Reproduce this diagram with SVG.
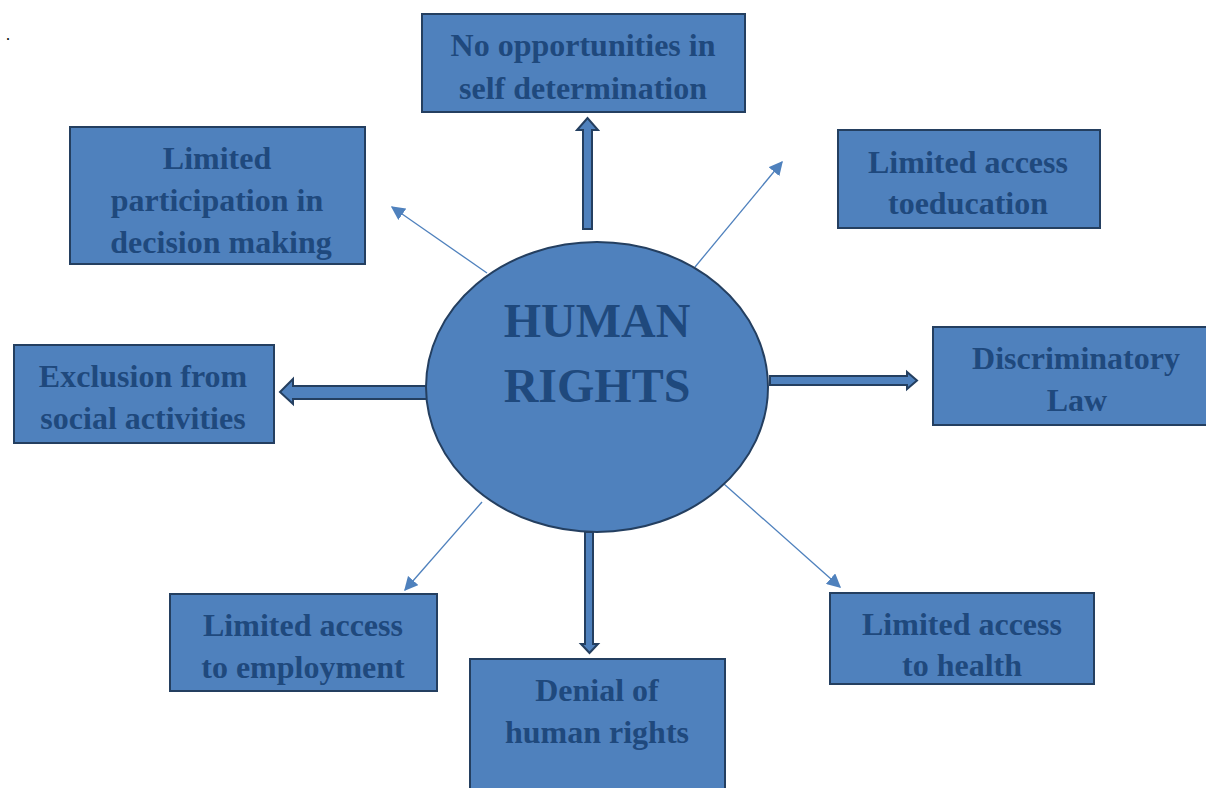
<svg xmlns="http://www.w3.org/2000/svg" width="1206" height="788" viewBox="0 0 1206 788">
<style>
.box{fill:#4F81BD;stroke:#243F60;stroke-width:2}
.t{font-family:"Liberation Serif",serif;font-weight:bold;font-size:32px;fill:#1F497D;text-anchor:middle}
.big{font-family:"Liberation Serif",serif;font-weight:bold;font-size:48px;fill:#1F497D;text-anchor:middle}
.blk{fill:#4F81BD;stroke:#243F60;stroke-width:2;stroke-linejoin:miter}
.thin{stroke:#4F81BD;stroke-width:1.3;fill:none;marker-end:url(#ah)}
</style>
<defs>
<marker id="ah" viewBox="0 0 10 10" refX="9" refY="5" markerWidth="14" markerHeight="14" markerUnits="userSpaceOnUse" orient="auto">
<path d="M0,0 L10,5 L0,10 z" fill="#4F81BD"/>
</marker>
</defs>
<rect width="1206" height="788" fill="#fff"/>
<text x="6" y="40" font-family="Liberation Serif,serif" font-size="16" fill="#000">.</text>
<g id="connectors">
<path class="blk" d="M583,229 L583,130 L577,130 L587.5,118 L598,130 L592,130 L592,229 Z"/>
<path class="blk" d="M770,376 L907,376 L907,372 L917,380.5 L907,389 L907,385 L770,385 Z"/>
<path class="blk" d="M427,386 L293,386 L293,379 L280,392 L293,404 L293,399 L427,399 Z"/>
<path class="blk" d="M585,532 L585,644 L581,644 L589.5,653 L598,644 L593,644 L593,532 Z"/>
<line class="thin" x1="487" y1="273" x2="392" y2="207"/>
<line class="thin" x1="695" y1="267" x2="782" y2="162"/>
<line class="thin" x1="482" y1="502" x2="405" y2="590"/>
<line class="thin" x1="724" y1="484" x2="840" y2="587"/>
</g>
<g id="center">
<ellipse cx="597" cy="387" rx="171" ry="145" fill="#4F81BD" stroke="#243F60" stroke-width="2"/>
<text class="big" x="597" y="337">HUMAN</text>
<text class="big" x="597" y="402">RIGHTS</text>
</g>
<g id="n-top">
<rect class="box" x="422" y="14" width="323" height="98"/>
<text class="t" x="583" y="56">No opportunities in</text>
<text class="t" x="583" y="99">self determination</text>
</g>
<g id="n-topleft">
<rect class="box" x="70" y="127" width="295" height="137"/>
<text class="t" x="217" y="169">Limited</text>
<text class="t" x="217" y="211">participation in</text>
<text class="t" x="221" y="253">decision  making</text>
</g>
<g id="n-topright">
<rect class="box" x="838" y="130" width="262" height="98"/>
<text class="t" x="968" y="173">Limited access</text>
<text class="t" x="968" y="214">toeducation</text>
</g>
<g id="n-right">
<rect class="box" x="933" y="327" width="280" height="98"/>
<text class="t" x="1076" y="369">Discriminatory</text>
<text class="t" x="1077" y="411">Law</text>
</g>
<g id="n-left">
<rect class="box" x="14" y="345" width="260" height="98"/>
<text class="t" x="143" y="387">Exclusion from</text>
<text class="t" x="143" y="429">social activities</text>
</g>
<g id="n-bottomleft">
<rect class="box" x="170" y="594" width="267" height="97"/>
<text class="t" x="303" y="636">Limited access</text>
<text class="t" x="303" y="678">to employment</text>
</g>
<g id="n-bottom">
<rect class="box" x="470" y="659" width="255" height="140"/>
<text class="t" x="597" y="701">Denial of</text>
<text class="t" x="597" y="743">human rights</text>
</g>
<g id="n-bottomright">
<rect class="box" x="830" y="593" width="264" height="91"/>
<text class="t" x="962" y="635">Limited access</text>
<text class="t" x="962" y="676">to health</text>
</g>
</svg>
